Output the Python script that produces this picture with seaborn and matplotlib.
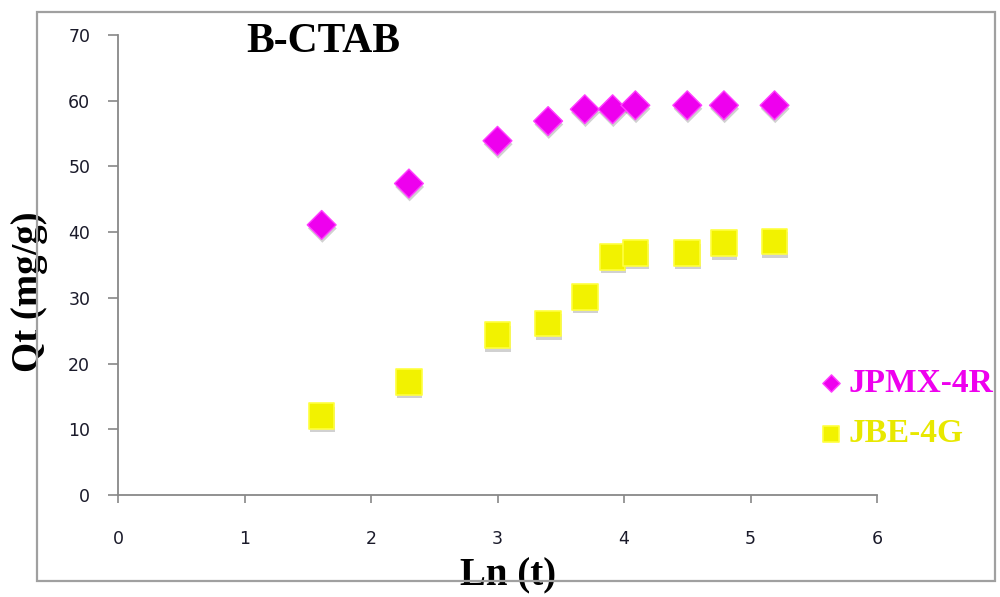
import numpy as np
import pandas as pd
import matplotlib
matplotlib.use("Agg")
import matplotlib.pyplot as plt
import matplotlib.patheffects as pe
from matplotlib.patches import Rectangle
import seaborn as sns

# Kinetic data: Ln(t) versus adsorbed amount Qt (mg/g) on B-CTAB
ln_t = [1.61, 2.30, 3.00, 3.40, 3.69, 3.91, 4.09, 4.50, 4.79, 5.19]
qt_jpmx = [41.1, 47.4, 53.9, 56.9, 58.7, 58.7, 59.3, 59.3, 59.3, 59.3]
qt_jbe = [12.0, 17.2, 24.3, 26.1, 30.1, 36.2, 36.8, 36.8, 38.3, 38.6]
series_names = ["JPMX-4R", "JBE-4G"]
x_ticks = [0, 1, 2, 3, 4, 5, 6]
y_ticks = [0, 10, 20, 30, 40, 50, 60, 70]

df = pd.DataFrame({
    "lnt": ln_t * 2,
    "qt": qt_jpmx + qt_jbe,
    "dye": [series_names[0]] * len(ln_t) + [series_names[1]] * len(ln_t),
})

sns.set_style("white")
plt.rcParams["font.family"] = ["DejaVu Sans"]

fig = plt.figure(figsize=(10, 5.97), dpi=100)
ax = fig.add_axes([0.118, 0.1709, 0.759, 0.7705])

magenta = "#EE00EE"
yellow = "#F2F200"
shadow = [pe.SimplePatchShadow(offset=(0.5, -2.5), shadow_rgbFace="black", alpha=0.18), pe.Normal()]

sub = df[df["dye"] == series_names[0]]
sns.scatterplot(data=sub, x="lnt", y="qt", marker="D", s=215, color=magenta,
                edgecolor="#FF40FF", linewidth=1, ax=ax, label=series_names[0], zorder=3)
sub = df[df["dye"] == series_names[1]]
sns.scatterplot(data=sub, x="lnt", y="qt", marker="s", s=340, color=yellow,
                edgecolor="#FFFF40", linewidth=1.2, ax=ax, label=series_names[1], zorder=3)
for coll in ax.collections:
    coll.set_path_effects(shadow)

ax.set_xlim(0, 6)
ax.set_ylim(0, 70)
ax.set_xticks(x_ticks)
ax.set_yticks(y_ticks)
ax.tick_params(axis="x", direction="out", length=6, width=1.2, color="#888888",
               pad=19, labelsize=12.5, labelcolor="#1a1a2a", bottom=True)
ax.tick_params(axis="y", direction="out", length=7, width=1.2, color="#888888",
               pad=13, labelsize=12.5, labelcolor="#1a1a2a", left=True)
for side in ["top", "right"]:
    ax.spines[side].set_visible(False)
for side in ["left", "bottom"]:
    ax.spines[side].set_color("#888888")
    ax.spines[side].set_linewidth(1.3)

serif_bold = dict(family="Liberation Serif", weight="bold", color="black")
ax.set_xlabel("Ln (t)", fontsize=28, **serif_bold)
ax.xaxis.label.set_va("center")
ax.xaxis.label.set_bbox(dict(facecolor="white", edgecolor="none", pad=2))
ax.xaxis.set_label_coords(0.514, -0.175)
ax.set_ylabel("Qt (mg/g)", fontsize=28, **serif_bold)
ax.yaxis.label.set_va("center")
ax.yaxis.set_label_coords(-0.116, 0.441)

ax.text(0.27, 0.985, "B-CTAB", transform=ax.transAxes, ha="center", va="center",
        fontsize=30, **serif_bold)

leg = ax.legend(loc="upper left", bbox_to_anchor=(0.814, 1 - 368 / 597),
                bbox_transform=fig.transFigure, frameon=False,
                prop=dict(family="Liberation Serif", weight="bold", size=24),
                labelcolor=[magenta, "#E8E800"], markerscale=0.6,
                handletextpad=0.05, handlelength=1.0, labelspacing=0.58,
                borderaxespad=0, borderpad=0)
for h in leg.legend_handles:
    h.set_path_effects([])

# Outer chart frame
fig.patches.append(Rectangle((0.037, 1 - 581 / 597), 0.958, (581 - 12) / 597,
                             transform=fig.transFigure, fill=False,
                             edgecolor="#A0A0A0", linewidth=1.6, zorder=0))

fig.savefig("out.png", dpi=100)
